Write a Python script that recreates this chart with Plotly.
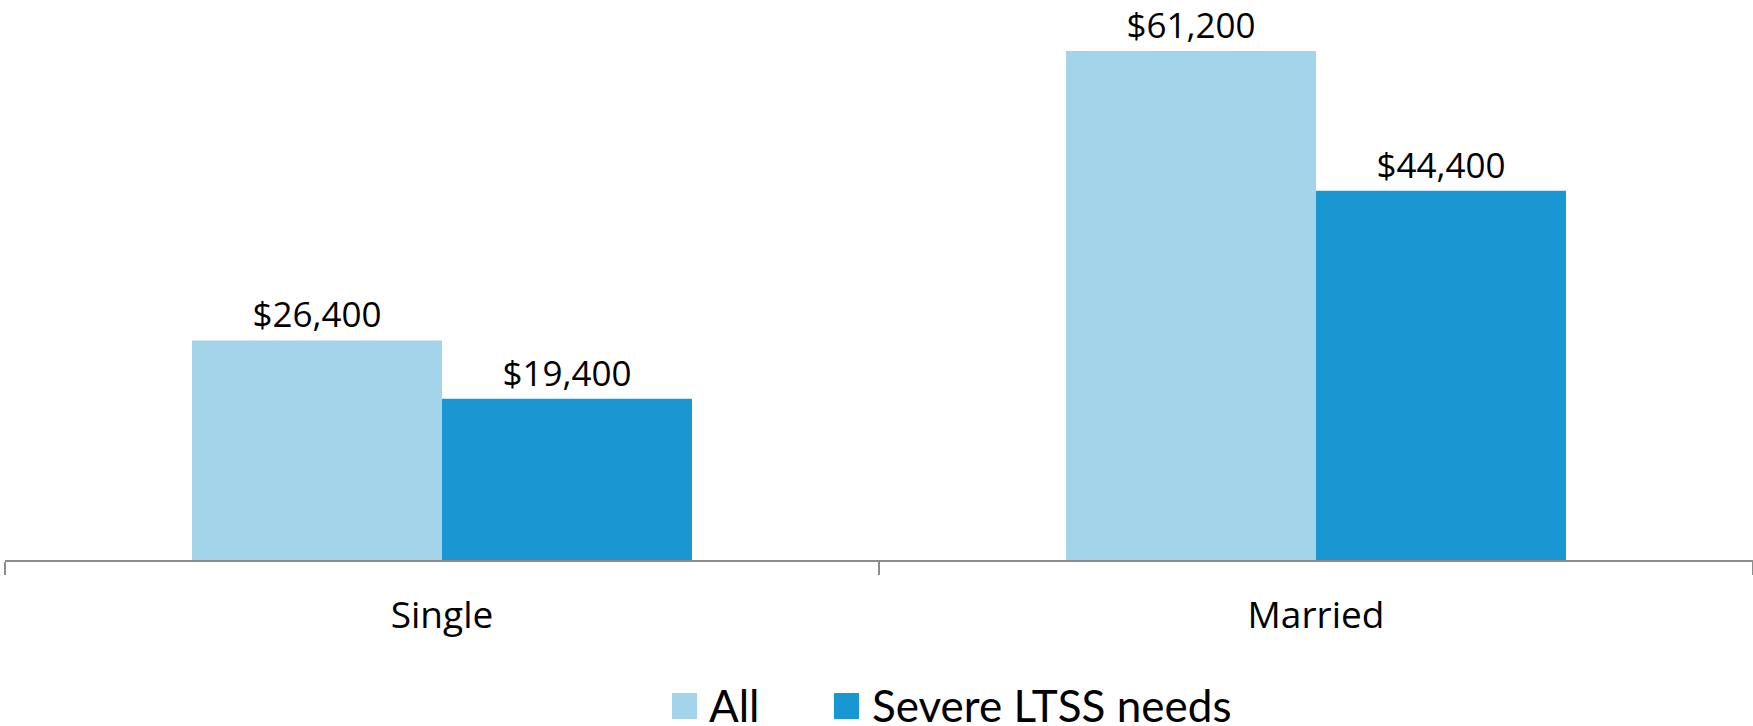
import plotly.graph_objects as go

# Median income by marital status
categories = ["Single", "Married"]
all_values = [26400, 61200]
severe_values = [19400, 44400]
series_names = ["All", "Severe LTSS needs"]
series_colors = ["#A3D4EA", "#1897D3"]

W, H = 1753, 726
M_L, M_R, M_T, M_B = 5, 0, 20, 166
Y_MAX = 64927

value_font = dict(family="Open Sans, Noto Sans, sans-serif", size=35, color="#000000")
tick_font = dict(family="Open Sans, Noto Sans, sans-serif", size=37, color="#000000")

fig = go.Figure()
for name, vals, color in zip(series_names, [all_values, severe_values], series_colors):
    fig.add_trace(go.Bar(
        x=categories,
        y=vals,
        name=name,
        marker=dict(color=color, line=dict(width=0)),
        text=[f"${v:,.0f}" for v in vals],
        textposition="outside",
        cliponaxis=False,
        textfont=value_font,
        showlegend=False,
    ))

fig.update_layout(
    width=W,
    height=H,
    margin=dict(l=M_L, r=M_R, t=M_T, b=M_B),
    barmode="group",
    bargap=0.428,
    bargroupgap=0,
    paper_bgcolor="#ffffff",
    plot_bgcolor="#ffffff",
    xaxis=dict(
        showline=True,
        linecolor="#8c8c8c",
        linewidth=2,
        ticks="outside",
        tickson="boundaries",
        ticklen=13,
        tickwidth=2,
        tickcolor="#8c8c8c",
        tickfont=tick_font,
        ticklabelstandoff=22,
        showgrid=False,
        zeroline=False,
    ),
    yaxis=dict(
        range=[0, Y_MAX],
        visible=False,
        showgrid=False,
        zeroline=False,
    ),
)

# Legend: coloured squares with labels below the plot
plot_w = W - M_L - M_R
plot_h = H - M_T - M_B


def px_x(px):
    return (px - M_L) / plot_w


def px_y(py):
    return (H - M_B - py) / plot_h


legend_items = [(672, 707), (834, 870)]
for (sq_x, txt_x), name, color in zip(legend_items, series_names, series_colors):
    fig.add_shape(
        type="rect", xref="paper", yref="paper",
        x0=px_x(sq_x), x1=px_x(sq_x + 25),
        y0=px_y(719), y1=px_y(693),
        fillcolor=color, line=dict(width=0),
    )
    fig.add_annotation(
        x=px_x(txt_x), y=px_y(705), xref="paper", yref="paper",
        text=name, showarrow=False, xanchor="left", yanchor="middle",
        height=38, valign="middle",
        font=dict(family="Lato, Open Sans, sans-serif", size=44, color="#000000"),
    )

fig.write_html("out.html")
